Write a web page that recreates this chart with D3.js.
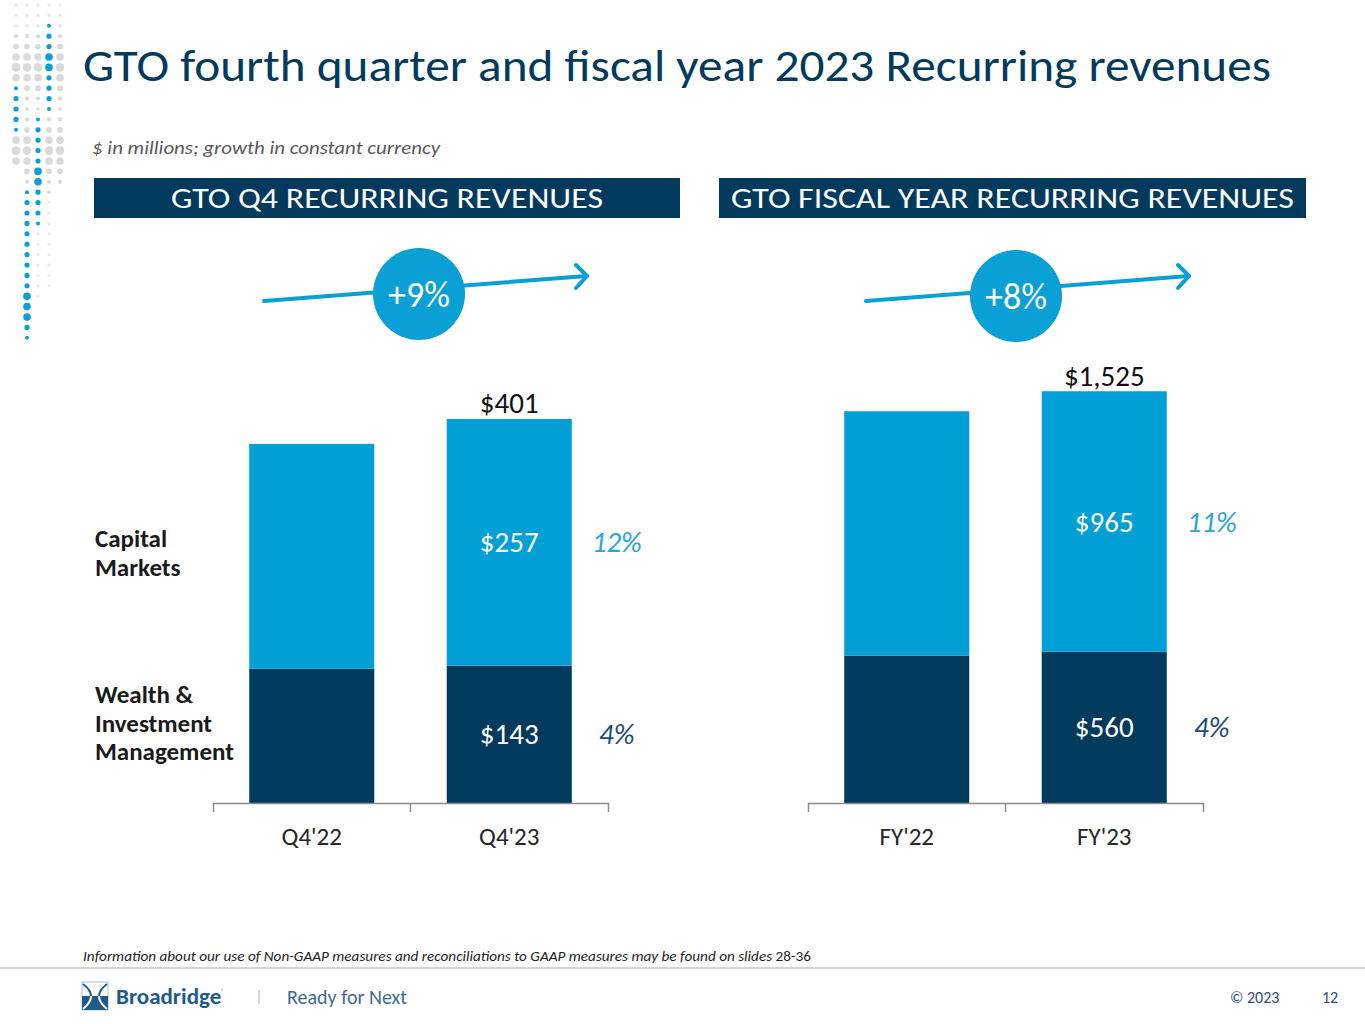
<!DOCTYPE html>
<html>
<head>
  <title>GTO Recurring revenues</title>
  <meta charset="utf-8">
  <script src="https://d3js.org/d3.v7.min.js"></script>
  <style>
    body { margin: 0; background: #fff; }
    text { font-family: Carlito, Lato, "Open Sans", sans-serif; }
  </style>
</head>
<body>
<script type="text/javascript">
  "use strict";

  /*
    Chart values
  */
  var q4Periods = ["Q4'22", "Q4'23"],
      q4Wealth  = [140, 143],
      q4Capital = [234, 257],
      q4Totals  = [null, 401],
      q4Growth  = { capital: "12%", wealth: "4%", total: "+9%" };

  var fyPeriods = ["FY'22", "FY'23"],
      fyWealth  = [546, 560],
      fyCapital = [905, 965],
      fyTotals  = [null, 1525],
      fyGrowth  = { capital: "11%", wealth: "4%", total: "+8%" };

  var navy = "#003A5D",
      blue = "#00A0D6",
      W = 1365, H = 1024;

  var svg = d3.select("body")
    .append("svg")
      .attr("width", W)
      .attr("height", H);

  function fit(sel, w) {
    sel.attr("textLength", w).attr("lengthAdjust", "spacingAndGlyphs");
    return sel;
  }

  /*
    Decorative dot column on the left edge
  */
  var dotCols = [16, 27, 38, 49, 60],
      blueRuns = [
        { col: 3, from: 2,  to: 10, big: [5, 6] },
        { col: 0, from: 8,  to: 12, big: [] },
        { col: 2, from: 11, to: 21, big: [16, 17] },
        { col: 1, from: 18, to: 32, big: [28, 29, 30] }
      ],
      grayMax = [15, 17, 28, 27, 17];

  var deco = svg.append("g").attr("class", "deco");
  var isBlue = {};
  blueRuns.forEach(function (run) {
    for (var r = run.from; r <= run.to; r++) {
      isBlue[run.col + "_" + r] = true;
      var rad = run.big.indexOf(r) >= 0 ? 3.8 : 2.6;
      if (r === run.from || r === run.to) rad = 2.0;
      deco.append("circle")
        .attr("cx", dotCols[run.col])
        .attr("cy", 5 + r * 10.4)
        .attr("r", rad)
        .attr("fill", "#0A9FD6");
    }
  });
  dotCols.forEach(function (cx, c) {
    for (var r = 0; r <= grayMax[c]; r++) {
      if (isBlue[c + "_" + r]) continue;
      var bump = Math.max(Math.exp(-Math.pow(r - 6, 2) / 5), Math.exp(-Math.pow(r - 14, 2) / 5));
      var fade = r > 18 ? 0.55 : 1;
      deco.append("circle")
        .attr("cx", cx)
        .attr("cy", 5 + r * 10.4)
        .attr("r", 1.7 + 2.6 * bump)
        .attr("fill", "#d8d8d8")
        .attr("opacity", (r < 3 ? 0.6 : 0.95) * fade);
    }
  });

  /*
    Titles and section headers
  */
  fit(svg.append("text")
    .attr("x", 83).attr("y", 81)
    .style("font-size", "45px")
    .style("fill", navy)
    .text("GTO fourth quarter and fiscal year 2023 Recurring revenues"), 1188);

  fit(svg.append("text")
    .attr("x", 92).attr("y", 154)
    .style("font-size", "18px")
    .style("font-style", "italic")
    .style("fill", "#595959")
    .text("$ in millions; growth in constant currency"), 348);

  var headers = [
    { x: 94,  w: 586, label: "GTO Q4 RECURRING REVENUES", tw: 432 },
    { x: 719, w: 587, label: "GTO FISCAL YEAR RECURRING REVENUES", tw: 563 }
  ];
  headers.forEach(function (h) {
    svg.append("rect")
      .attr("x", h.x).attr("y", 178)
      .attr("width", h.w).attr("height", 40)
      .attr("fill", "#023A5E");
    fit(svg.append("text")
      .attr("x", h.x + h.w / 2).attr("y", 208)
      .attr("text-anchor", "middle")
      .style("font-size", "28px")
      .style("fill", "#fff")
      .text(h.label), h.tw);
  });

  /*
    Stacked bar chart, one per panel
  */
  function drawPanel(cfg) {
    var rows = cfg.periods.map(function (p, i) {
      return { period: p, wealth: cfg.wealth[i], capital: cfg.capital[i], total: cfg.totals[i] };
    });

    var x = d3.scaleBand()
      .domain(cfg.periods)
      .range([cfg.x0, cfg.x1])
      .paddingInner(0.367)
      .paddingOuter(0.1835);

    var y = d3.scaleLinear()
      .domain([0, cfg.yMax])
      .range([803, 371]);

    var series = d3.stack().keys(["wealth", "capital"])(rows);
    var colors = { wealth: navy, capital: blue };

    var g = svg.append("g");

    g.selectAll("g.layer")
      .data(series)
      .enter()
      .append("g")
        .attr("class", "layer")
        .attr("fill", function (d) { return colors[d.key]; })
      .selectAll("rect")
      .data(function (d) { return d; })
      .enter()
      .append("rect")
        .attr("x", function (d) { return x(d.data.period); })
        .attr("y", function (d) { return y(d[1]); })
        .attr("width", x.bandwidth())
        .attr("height", function (d) { return y(d[0]) - y(d[1]); });

    // values inside the latest bar, growth to its right
    var last = rows.length - 1,
        cx = x(cfg.periods[last]) + x.bandwidth() / 2,
        gx = x(cfg.periods[last]) + x.bandwidth() + 45;

    series.forEach(function (s) {
      var seg = s[last],
          mid = (y(seg[0]) + y(seg[1])) / 2 + 10;
      g.append("text")
        .attr("x", cx).attr("y", mid)
        .attr("text-anchor", "middle")
        .style("font-size", "29px")
        .style("fill", "#fff")
        .text("$" + d3.format(",")(rows[last][s.key]));
      g.append("text")
        .attr("x", gx).attr("y", mid)
        .attr("text-anchor", "middle")
        .style("font-size", "29px")
        .style("font-style", "italic")
        .style("fill", s.key === "capital" ? "#2AA4D8" : "#1F4A72")
        .text(cfg.growth[s.key]);
    });

    // total above the bar
    g.selectAll("text.total")
      .data(rows.filter(function (d) { return d.total != null; }))
      .enter()
      .append("text")
        .attr("class", "total")
        .attr("x", function (d) { return x(d.period) + x.bandwidth() / 2; })
        .attr("y", function (d) { return y(d.total) - 5; })
        .attr("text-anchor", "middle")
        .style("font-size", "29px")
        .style("fill", "#111")
        .text(function (d) { return "$" + d3.format(",")(d.total); });

    // category axis with ticks at band edges
    var axis = g.append("g")
      .attr("transform", "translate(0,803)")
      .call(d3.axisBottom(x).tickSizeInner(0).tickSizeOuter(9));
    axis.select(".domain").attr("stroke", "#8c8c8c").attr("stroke-width", 1.5);
    axis.selectAll(".tick line").remove();
    axis.selectAll(".tick text")
      .attr("y", 42).attr("dy", null)
      .style("font-family", "Carlito, Lato, sans-serif")
      .style("font-size", "25px")
      .style("fill", "#262626");
    axis.append("line")
      .attr("x1", cfg.x0 + x.step() * (x.paddingOuter() + 1) - x.step() * x.paddingInner() / 2)
      .attr("x2", cfg.x0 + x.step() * (x.paddingOuter() + 1) - x.step() * x.paddingInner() / 2)
      .attr("y1", 0).attr("y2", 9)
      .attr("stroke", "#8c8c8c").attr("stroke-width", 1.5);

    // growth arrow with circle badge
    var arrow = svg.append("g");
    arrow.append("line")
      .attr("x1", cfg.arrow[0]).attr("y1", cfg.arrow[1])
      .attr("x2", cfg.arrow[2]).attr("y2", cfg.arrow[3])
      .attr("stroke", "#0AA0D6").attr("stroke-width", 4)
      .attr("stroke-linecap", "round");
    arrow.append("path")
      .attr("d", "M" + (cfg.arrow[2] - 11) + "," + (cfg.arrow[3] - 11) +
                 "L" + cfg.arrow[2] + "," + cfg.arrow[3] +
                 "L" + (cfg.arrow[2] - 11) + "," + (cfg.arrow[3] + 12))
      .attr("fill", "none")
      .attr("stroke", "#0AA0D6").attr("stroke-width", 4)
      .attr("stroke-linecap", "round").attr("stroke-linejoin", "round");
    arrow.append("circle")
      .attr("cx", cfg.badge[0]).attr("cy", cfg.badge[1])
      .attr("r", 46)
      .attr("fill", "#0AA0D6");
    arrow.append("text")
      .attr("x", cfg.badge[0]).attr("y", cfg.badge[1] + 13)
      .attr("text-anchor", "middle")
      .style("font-size", "36px")
      .style("fill", "#fff")
      .text(cfg.growth.total);
  }

  drawPanel({
    periods: q4Periods, wealth: q4Wealth, capital: q4Capital, totals: q4Totals,
    growth: q4Growth, yMax: 450, x0: 213, x1: 608,
    arrow: [264, 301, 587, 276], badge: [419, 294]
  });

  drawPanel({
    periods: fyPeriods, wealth: fyWealth, capital: fyCapital, totals: fyTotals,
    growth: fyGrowth, yMax: 1600, x0: 808, x1: 1203,
    arrow: [866, 301, 1189, 276], badge: [1016, 296]
  });

  // segment names on the left
  var sideLabels = [
    { lines: ["Capital", "Markets"], y: 547 },
    { lines: ["Wealth &", "Investment", "Management"], y: 703 }
  ];
  sideLabels.forEach(function (s) {
    var t = svg.append("text")
      .attr("x", 95).attr("y", s.y)
      .style("font-size", "25px")
      .style("font-weight", "bold")
      .style("fill", "#1a1a1a");
    s.lines.forEach(function (l, i) {
      t.append("tspan").attr("x", 95).attr("dy", i ? 28.5 : 0).text(l);
    });
  });

  /*
    Footer
  */
  var foot = svg.append("text")
    .attr("x", 83).attr("y", 961)
    .style("font-size", "14px")
    .style("fill", "#222");
  foot.append("tspan").style("font-style", "italic")
    .text("Information about our use of Non-GAAP measures and reconciliations to GAAP measures may be found on slides ");
  foot.append("tspan").text("28-36");
  fit(foot, 728);

  svg.append("line")
    .attr("x1", 0).attr("x2", W)
    .attr("y1", 968).attr("y2", 968)
    .attr("stroke", "#d4d4d4").attr("stroke-width", 2);

  // logo mark
  var logo = svg.append("g");
  logo.append("clipPath").attr("id", "logoTop")
    .append("rect").attr("x", 82).attr("y", 982).attr("width", 26).attr("height", 14);
  logo.append("clipPath").attr("id", "logoBot")
    .append("rect").attr("x", 82).attr("y", 996).attr("width", 26).attr("height", 14);
  logo.append("rect").attr("x", 82).attr("y", 982).attr("width", 26).attr("height", 28)
    .attr("fill", "#fff").attr("stroke", "#9fc3de").attr("stroke-width", 1);
  logo.append("rect").attr("x", 82).attr("y", 996).attr("width", 26).attr("height", 14)
    .attr("fill", "#1F5A8C");
  ["logoTop", "logoBot"].forEach(function (id) {
    var col = id === "logoTop" ? "#1F5A8C" : "#fff";
    var gg = logo.append("g").attr("clip-path", "url(#" + id + ")")
      .attr("fill", "none").attr("stroke", col).attr("stroke-width", 2);
    gg.append("path").attr("d", "M83,984 Q99,996 83,1009");
    gg.append("path").attr("d", "M107,984 Q91,996 107,1009");
  });

  svg.append("text")
    .attr("x", 116).attr("y", 1004)
    .style("font-size", "23px").style("font-weight", "bold")
    .style("fill", "#1F5A8C")
    .text("Broadridge");
  svg.append("text")
    .attr("x", 221).attr("y", 993)
    .style("font-size", "6px").style("fill", "#1F5A8C")
    .text("®");
  svg.append("line")
    .attr("x1", 259).attr("x2", 259).attr("y1", 990).attr("y2", 1004)
    .attr("stroke", "#b0b0b0").attr("stroke-width", 1);
  fit(svg.append("text")
    .attr("x", 287).attr("y", 1004)
    .style("font-size", "20px").style("font-weight", 300)
    .style("fill", "#3E6A92")
    .text("Ready for Next"), 120);

  svg.append("text")
    .attr("x", 1230).attr("y", 1003)
    .style("font-size", "16px").style("fill", "#2B4E73")
    .text("© 2023");
  svg.append("text")
    .attr("x", 1322).attr("y", 1003)
    .style("font-size", "16px").style("fill", "#2B4E73")
    .text("12");
</script>
</body>
</html>
